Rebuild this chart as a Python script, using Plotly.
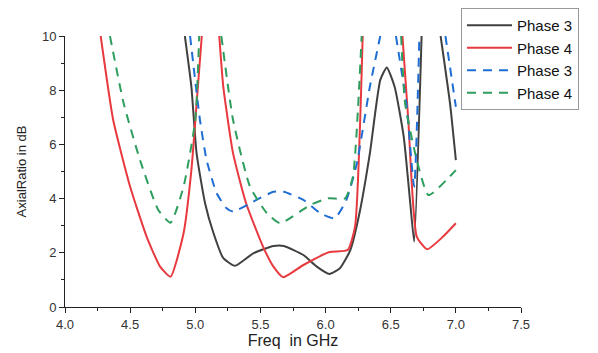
import plotly.graph_objects as go

N = None
# Phase 3 (solid, black)
p3s_x = [4.92, 4.97, 5.01, 5.075, 5.14, 5.215, 5.305, 5.445, 5.6, 5.68, 5.83, 5.93, 6.03, 6.11, 6.19, 6.26, 6.34, 6.42, 6.47, 6.53, 6.6, 6.65, 6.68, 6.737, N, 6.883, 6.955, 7.0]
p3s_y = [10, 8.13, 5.67, 3.83, 2.72, 1.8, 1.52, 1.98, 2.25, 2.25, 1.92, 1.5, 1.22, 1.43, 2.1, 3.46, 5.67, 8.38, 8.84, 8.13, 6.28, 3.83, 2.41, 10, N, 10, 7.52, 5.42]
# Phase 4 (solid, red)
p4s_x = [4.274, 4.37, 4.5, 4.627, 4.73, 4.81, 4.91, 4.97, 5.02, 5.05, N,
         5.184, 5.215, 5.29, 5.39, 5.52, 5.6, 5.675, 5.83, 6.03, 6.17, 6.226, 6.285, N,
         6.59, 6.635, 6.70, 6.78, 6.9, 7.0]
p4s_y = [10, 6.9, 4.44, 2.59, 1.49, 1.12, 2.72, 5.05, 8.13, 10, N,
         10, 8.13, 5.67, 3.83, 2.23, 1.49, 1.1, 1.55, 2.03, 2.1, 2.96, 10, N,
         10, 6.9, 2.6, 2.13, 2.59, 3.09]
# Phase 3 (dashed, blue)
p3d_x = [4.96, 5.036, 5.087, 5.164, 5.24, 5.29, 5.445, 5.6, 5.68, 5.83, 5.96, 6.07, 6.16, 6.24, 6.34, 6.42, N,
         6.54, 6.62, 6.68, 6.72, N, 6.92, 7.0]
p3d_y = [10, 6.9, 5.42, 4.2, 3.64, 3.52, 3.89, 4.25, 4.25, 3.95, 3.46, 3.27, 3.95, 5.3, 8.13, 10, N,
         10, 7.52, 4.44, 10, N, 10, 7.39]
# Phase 4 (dashed, green)
p4d_x = [4.345, 4.45, 4.576, 4.716, 4.81, 4.91, 5.0, 5.03, N,
         5.2, 5.29, 5.42, 5.55, 5.65, 5.88, 6.02, 6.15, 6.21, 6.277, N,
         6.58, 6.61, 6.7, 6.79, 7.0]
p4d_y = [10, 7.52, 5.42, 3.58, 3.11, 4.44, 6.9, 10, N,
         10, 6.9, 4.44, 3.46, 3.09, 3.76, 4.01, 4.01, 4.81, 10, N,
         10, 7.52, 5.42, 4.13, 5.05]

x_ticks = [4.0, 4.5, 5.0, 5.5, 6.0, 6.5, 7.0, 7.5]
y_ticks = [0, 2, 4, 6, 8, 10]

FONT = "Arial, Liberation Sans, sans-serif"
fig = go.Figure()
series = [
    (p3s_x, p3s_y, "Phase 3", "#404040", "solid"),
    (p4s_x, p4s_y, "Phase 4", "#e8393f", "solid"),
    (p3d_x, p3d_y, "Phase 3", "#1f6ed4", "9px,7px"),
    (p4d_x, p4d_y, "Phase 4", "#2e9e5e", "9px,7px"),
]
for xs, ys, name, col, dash in series:
    fig.add_trace(go.Scatter(x=xs, y=ys, mode="lines", name=name,
                             line=dict(color=col, width=2, dash=dash, shape="spline", smoothing=0.5),
                             connectgaps=False))

W, H = 590, 345  # page body has an 8px margin
fig.update_layout(
    width=W, height=H,
    margin=dict(l=57, r=77, t=28, b=46, autoexpand=False),
    plot_bgcolor="white", paper_bgcolor="white",
    font=dict(family=FONT, size=12, color="#222"),
    legend=dict(xref="container", yref="container", x=(461 - 8) / W, y=1.0,
                xanchor="left", yanchor="top",
                bordercolor="#999", borderwidth=1, bgcolor="white",
                font=dict(size=15, color="#111"), tracegroupgap=0, itemwidth=45),
    xaxis=dict(range=[4.0, 7.5], tickvals=x_ticks, ticktext=[f"{v:.1f}" for v in x_ticks],
               showgrid=False, zeroline=False, showline=True, linecolor="#222", linewidth=1,
               ticks="outside", ticklen=5, tickcolor="#222", automargin=False,
               minor=dict(dtick=0.25, ticks="outside", ticklen=3, tickcolor="#222"),
               title=dict(text="Freq  in GHz", font=dict(size=16), standoff=3),
               tickfont=dict(size=13, color="#333")),
    yaxis=dict(range=[0, 10], tickvals=y_ticks,
               showgrid=False, zeroline=False, showline=True, linecolor="#222", linewidth=1,
               ticks="outside", ticklen=5, tickcolor="#222", automargin=False,
               minor=dict(dtick=1, ticks="outside", ticklen=3, tickcolor="#222"),
               title=dict(text="AxialRatio in dB", font=dict(size=13), standoff=12),
               tickfont=dict(size=13, color="#333")),
)
fig.write_html("out.html")
